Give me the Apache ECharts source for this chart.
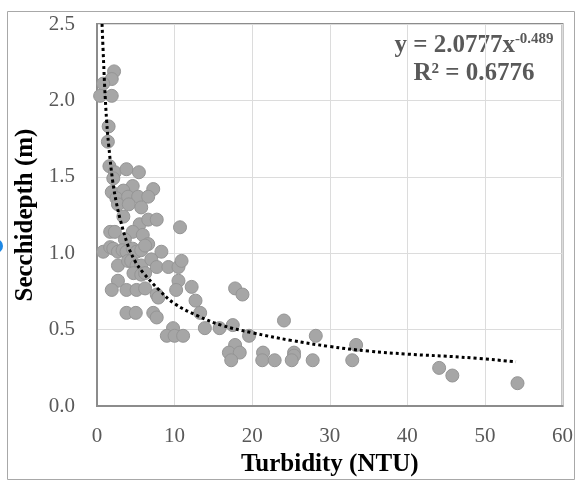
<!DOCTYPE html>
<html><head><meta charset="utf-8">
<script src="https://cdn.jsdelivr.net/npm/echarts@6/dist/echarts.min.js"></script>
<style>html,body{margin:0;padding:0;background:#fff}#c{width:576px;height:482px}</style>
</head><body><div id="c"></div>
<script>
var turbidity = [2.2,1.9,0.8,0.4,1.9,1.5,1.4,1.6,2.3,3.8,5.4,2.1,4.6,7.25,1.9,3.4,2.5,4.0,5.3,6.6,2.7,4.1,5.7,3.4,5.5,6.6,7.7,10.7,4.6,5.9,1.7,2.3,3.6,6.6,0.8,1.7,2.1,2.7,3.3,3.8,4.6,5.1,5.7,6.2,8.3,2.7,4.0,4.4,5.1,5.7,7.0,7.7,9.2,10.5,10.9,4.7,5.7,6.2,2.7,1.9,3.8,5.1,6.2,7.7,7.9,10.5,10.2,12.2,12.7,3.8,5.0,7.25,7.7,9.8,9.0,10.0,11.1,17.8,18.75,13.3,13.9,15.8,17.5,17.8,17.0,18.4,17.3,19.6,21.4,21.3,22.9,24.1,25.4,25.4,25.1,27.8,28.2,33.4,32.9,44.1,45.8,54.2];
var secchi = [2.19,2.14,2.11,2.03,2.03,1.83,1.73,1.57,1.53,1.55,1.53,1.49,1.44,1.42,1.40,1.41,1.36,1.37,1.37,1.37,1.32,1.32,1.30,1.24,1.19,1.22,1.22,1.17,1.14,1.12,1.14,1.14,1.09,1.06,1.01,1.04,1.03,1.01,1.02,1.01,1.03,1.01,1.02,1.05,1.01,0.92,0.95,0.95,0.92,0.92,0.96,0.91,0.91,0.91,0.95,0.87,0.86,0.87,0.82,0.76,0.76,0.76,0.77,0.73,0.71,0.82,0.76,0.78,0.69,0.61,0.61,0.61,0.58,0.51,0.46,0.46,0.46,0.77,0.73,0.61,0.51,0.51,0.53,0.40,0.35,0.35,0.30,0.46,0.35,0.30,0.30,0.56,0.35,0.33,0.30,0.30,0.46,0.40,0.30,0.25,0.20,0.15];
var trendX = [0.65,0.85,1,1.25,1.5,2,2.5,3,4,5,6,8,10,13,16,20,25,30,35,40,47,54];
var trendY = [2.5,2.25,2.08,1.86,1.71,1.48,1.33,1.22,1.05,0.94,0.87,0.76,0.67,0.59,0.53,0.48,0.43,0.39,0.36,0.34,0.32,0.29];
var xTicks = [0,10,20,30,40,50,60];
var yTicks = [0,0.5,1.0,1.5,2.0,2.5];

var pts = turbidity.map(function(x,i){return [x, secchi[i]];});
var trend = trendX.map(function(x,i){return [x, trendY[i]];});
var serif = '"Liberation Serif", "DejaVu Serif", serif';

var chart = echarts.init(document.getElementById('c'), null, {renderer:'canvas'});
chart.setOption({
  animation:false,
  backgroundColor:'#fff',
  grid:{left:97, top:24, right:13, bottom:73, show:true, borderColor:'#8c8c8c', borderWidth:2, containLabel:false},
  xAxis:{
    type:'value', min:xTicks[0], max:xTicks[xTicks.length-1], interval:10,
    name:'Turbidity (NTU)', nameLocation:'middle', nameGap:45,
    nameTextStyle:{fontFamily:serif, fontWeight:'bold', fontSize:25, color:'#000'},
    axisLine:{show:true, lineStyle:{color:'#8c8c8c', width:2}},
    axisTick:{show:false},
    axisLabel:{fontFamily:serif, fontSize:21, color:'#595959', margin:20},
    splitLine:{show:true, lineStyle:{color:'#dcdcdc', width:1}}
  },
  yAxis:{
    type:'value', min:yTicks[0], max:yTicks[yTicks.length-1], interval:0.5,
    name:'Secchidepth (m)', nameLocation:'middle', nameGap:59,
    nameTextStyle:{fontFamily:serif, fontWeight:'bold', fontSize:25, color:'#000'},
    axisLine:{show:true, lineStyle:{color:'#8c8c8c', width:2}},
    axisTick:{show:false},
    axisLabel:{fontFamily:serif, fontSize:21, color:'#595959', margin:22, formatter:function(v){return v.toFixed(1);}},
    splitLine:{show:true, lineStyle:{color:'#dcdcdc', width:1}}
  },
  series:[
    {type:'scatter', data:pts, symbolSize:13, itemStyle:{color:'#a6a6a6', borderColor:'#959595', borderWidth:1, opacity:1}, z:2},
    {type:'line', data:trend, smooth:0.4, showSymbol:false, symbol:'none', lineStyle:{color:'#000', width:3, type:[3,3]}, z:3}
  ],
  graphic:[
    {type:'rect', shape:{x:7.5, y:11.5, width:567, height:468}, style:{fill:'none', stroke:'#a8a8a8', lineWidth:1}, z:-1, silent:true},
    {type:'circle', shape:{cx:-4, cy:246, r:7}, style:{fill:'#1e88e5'}, silent:true},
    {type:'text', x:474, y:32, style:{
      text:'{a|y = 2.0777x}{s|-0.489}\n{a|R² = 0.6776}',
      align:'center', verticalAlign:'top', fill:'#595959',
      rich:{
        a:{fontFamily:serif, fontWeight:'bold', fontSize:25, fill:'#595959', lineHeight:28},
        s:{fontFamily:serif, fontWeight:'bold', fontSize:15, fill:'#595959', lineHeight:28, verticalAlign:'top', padding:[0,0,10,0]}
      }
    }, silent:true}
  ]
});
</script></body></html>
